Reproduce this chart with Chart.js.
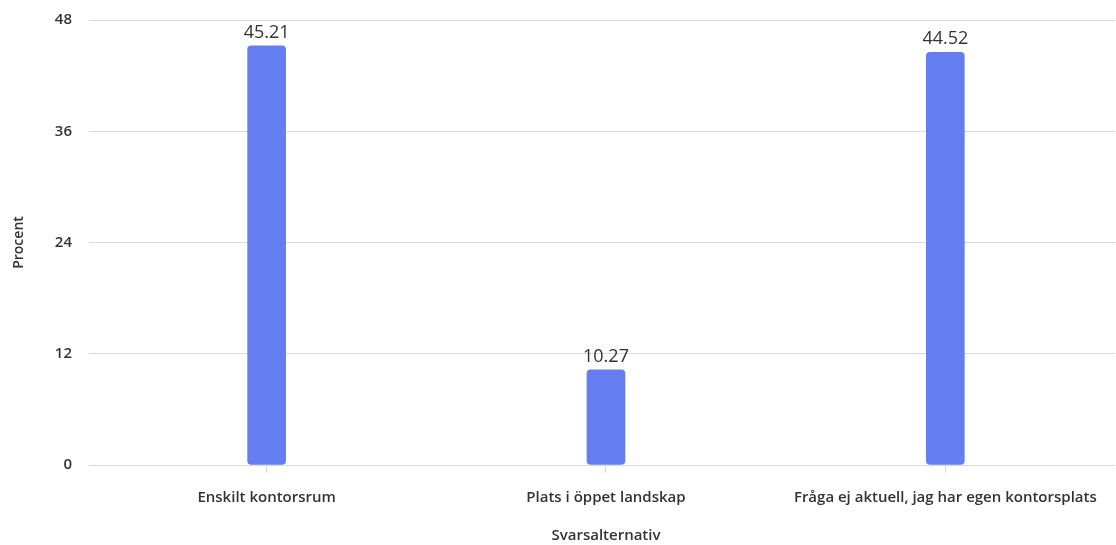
<!DOCTYPE html>
<html><head><meta charset="utf-8">
<script src="https://cdn.jsdelivr.net/npm/chart.js@4"></script>
<style>html,body{margin:0;padding:0;background:#fff}#w{width:1116px;height:545px}</style>
</head><body><div id="w"><canvas id="c"></canvas></div>
<script>
const categories = ["Enskilt kontorsrum", "Plats i öppet landskap", "Fråga ej aktuell, jag har egen kontorsplats"];
const values = [45.21, 10.27, 44.52];
const yTicks = [0, 12, 24, 36, 48];
const FONT = "'Open Sans', 'Noto Sans', sans-serif";

const valueLabels = {
  id: 'valueLabels',
  afterDatasetsDraw(chart) {
    const ctx = chart.ctx;
    const meta = chart.getDatasetMeta(0);
    ctx.save();
    ctx.font = "500 18px " + FONT;
    ctx.fillStyle = '#333';
    ctx.textAlign = 'center';
    ctx.textBaseline = 'bottom';
    meta.data.forEach((bar, i) => {
      ctx.fillText(values[i].toFixed(2), bar.x, bar.y - 4);
    });
    ctx.restore();
  }
};

new Chart(document.getElementById('c'), {
  type: 'bar',
  data: { labels: categories, datasets: [{ data: values, backgroundColor: '#647ef2', borderRadius: 4, borderSkipped: false, barThickness: 38 }] },
  options: {
    responsive: true, maintainAspectRatio: false, animation: false,
    layout: { padding: { left: 11, right: 1, top: 20, bottom: 0 } },
    plugins: { legend: { display: false }, tooltip: { enabled: false } },
    scales: {
      x: {
        grid: { display: true, offset: false, drawOnChartArea: false, drawTicks: true, tickLength: 8, color: '#d9d9d9' },
        border: { display: false },
        ticks: { color: '#333', font: { family: FONT, size: 15, weight: '600' }, padding: 16 },
        title: { display: true, text: 'Svarsalternativ', color: '#333', font: { family: FONT, size: 15, weight: '600' }, padding: { top: 4, bottom: 0 } }
      },
      y: {
        min: 0, max: 48,
        afterBuildTicks(axis) { axis.ticks = yTicks.map(v => ({ value: v })); },
        afterFit(axis) { axis.paddingTop = 10; axis.paddingBottom = 10; },
        grid: { color: '#d9d9d9', tickLength: 8, lineWidth: 1 },
        border: { display: false },
        ticks: { color: '#333', font: { family: FONT, size: 15, weight: '600' }, padding: 17 },
        title: { display: true, text: 'Procent', color: '#333', font: { family: FONT, size: 14, weight: '600' }, padding: { top: 0, bottom: 10 } }
      }
    }
  },
  plugins: [valueLabels]
});
</script></body></html>
